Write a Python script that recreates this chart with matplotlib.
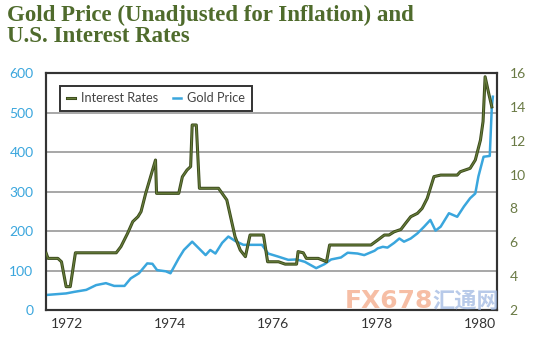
import matplotlib
matplotlib.use("Agg")
import matplotlib.pyplot as plt
import matplotlib.patheffects as pe

# Interest rates (right axis, %)
rate_year = [1971.60, 1971.64, 1971.83, 1971.90, 1971.99, 1972.07, 1972.17, 1972.96,
             1973.05, 1973.18, 1973.28, 1973.38, 1973.44, 1973.53, 1973.72, 1973.74,
             1974.17, 1974.24, 1974.33, 1974.40, 1974.43, 1974.51, 1974.57, 1974.94,
             1975.01, 1975.10, 1975.26, 1975.36, 1975.46, 1975.55, 1975.81, 1975.89,
             1976.10, 1976.23, 1976.45, 1976.48, 1976.58, 1976.64, 1976.87, 1977.03,
             1977.09, 1977.89, 1978.02, 1978.15, 1978.24, 1978.34, 1978.47, 1978.56,
             1978.66, 1978.79, 1978.88, 1978.98, 1979.11, 1979.24, 1979.56, 1979.62,
             1979.81, 1979.91, 1980.01, 1980.06, 1980.10, 1980.17, 1980.23]
rate_value = [5.38, 5.05, 5.05, 4.85, 3.38, 3.38, 5.38, 5.38,
              5.74, 6.53, 7.22, 7.51, 7.81, 8.89, 10.86, 8.89,
              8.89, 9.87, 10.27, 10.47, 12.93, 12.93, 9.19, 9.19,
              8.89, 8.50, 6.33, 5.54, 5.15, 6.43, 6.43, 4.85,
              4.85, 4.71, 4.71, 5.45, 5.38, 5.05, 5.05, 4.85,
              5.84, 5.84, 6.13, 6.43, 6.43, 6.62, 6.76, 7.12,
              7.51, 7.71, 8.00, 8.60, 9.88, 9.97, 9.97, 10.17,
              10.37, 10.86, 12.04, 13.13, 15.78, 14.79, 14.00]

# Gold price (left axis, USD)
gold_year = [1971.60, 1971.99, 1972.15, 1972.38, 1972.57, 1972.76, 1972.92, 1973.12,
             1973.24, 1973.40, 1973.56, 1973.66, 1973.75, 1973.92, 1974.01, 1974.17,
             1974.27, 1974.43, 1974.56, 1974.69, 1974.78, 1974.88, 1975.01, 1975.13,
             1975.26, 1975.42, 1975.55, 1975.78, 1975.90, 1976.10, 1976.29, 1976.45,
             1976.61, 1976.83, 1976.99, 1977.12, 1977.31, 1977.44, 1977.63, 1977.76,
             1977.96, 1978.02, 1978.12, 1978.21, 1978.34, 1978.44, 1978.53, 1978.66,
             1978.79, 1978.92, 1979.04, 1979.14, 1979.24, 1979.40, 1979.56, 1979.69,
             1979.81, 1979.91, 1979.97, 1980.07, 1980.19, 1980.23, 1980.25]
gold_value = [38, 42, 46, 51, 63, 68, 61, 61,
              80, 93, 118, 117, 101, 98, 93, 131,
              152, 173, 156, 139, 152, 143, 170, 186,
              175, 165, 165, 165, 143, 135, 127, 128,
              122, 106, 116, 128, 133, 145, 143, 139,
              150, 156, 160, 158, 170, 181, 173, 181,
              194, 211, 228, 201, 211, 245, 236, 262,
              283, 295, 338, 388, 390, 515, 540]

left_ticks = [0, 100, 200, 300, 400, 500, 600]
right_ticks = [2, 4, 6, 8, 10, 12, 14, 16]
year_ticks = [1972, 1974, 1976, 1978, 1980]

title = "Gold Price (Unadjusted for Inflation) and\nU.S. Interest Rates"

GREEN_DARK = "#3b4a1c"
GREEN = "#667c3a"
BLUE = "#3aa6dd"
TITLE_C = "#4f6b2c"
RIGHT_C = "#6a7a45"

fig = plt.figure(figsize=(5.34, 3.40), dpi=100)
ax = fig.add_axes([0.0861, 0.0882, 0.8446, 0.6971])
ax2 = ax.twinx()

ax.set_xlim(1971.6, 1980.33)
ax.set_ylim(0, 600)
ax2.set_ylim(2, 16)

for y in left_ticks[1:-1]:
    ax.axhline(y, color="#a0a0a0", lw=1.3, zorder=1)

gl, = ax.plot(gold_year, gold_value, color=BLUE, lw=1.8, zorder=3, label="Gold Price")
rl, = ax2.plot(rate_year, rate_value, color=GREEN, lw=0.9, zorder=3, label="Interest Rates",
               path_effects=[pe.Stroke(linewidth=2.2, foreground=GREEN_DARK), pe.Normal()])

ax.set_yticks(left_ticks)
ax2.set_yticks(right_ticks)
ax.set_xticks(year_ticks)
font = "Lato"
ax.tick_params(axis="y", length=0, pad=9, labelcolor=BLUE, labelsize=10)
ax.tick_params(axis="x", length=0, pad=6, labelcolor="#333333", labelsize=10)
ax2.tick_params(axis="y", length=0, pad=9, labelcolor=RIGHT_C, labelsize=10)
for lab in ax.get_xticklabels() + ax.get_yticklabels() + ax2.get_yticklabels():
    lab.set_fontfamily(font)

for a in (ax, ax2):
    for s in a.spines.values():
        s.set_color("#333333")
        s.set_linewidth(1.5)

ax2.set_zorder(ax.get_zorder() + 1)
ax2.patch.set_visible(False)

leg = ax2.legend(handles=[rl, gl], loc="upper left", ncol=2, bbox_to_anchor=(0.018, 0.972),
                 handlelength=0.6, handletextpad=0.5, columnspacing=1.2, fancybox=False,
                 framealpha=1, edgecolor="#333333", borderpad=0.5,
                 prop={"family": font, "size": 9.2})
leg.get_frame().set_linewidth(1.4)
for t in leg.get_texts():
    t.set_color("#444444")

fig.text(0.013, 0.985, title, ha="left", va="top", fontsize=16.5, fontweight="bold",
         family="Liberation Serif", color=TITLE_C, linespacing=1.0)

# watermark
fig.text(0.645, 0.095, "FX678", fontsize=18, fontweight="bold", family="DejaVu Sans",
         color="#f3a37f", alpha=0.7, zorder=10)
fig.text(0.81, 0.095, "汇通网", fontsize=16, fontweight="bold", family="Noto Sans CJK SC",
         color="#9bb4e0", alpha=0.7, zorder=10)

fig.savefig("out.png", dpi=100)
